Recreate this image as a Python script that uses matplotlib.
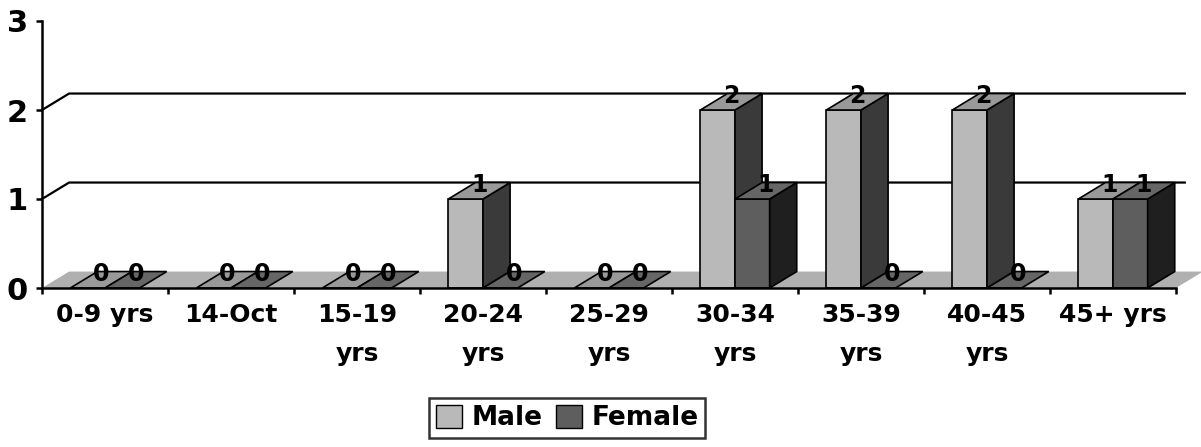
import matplotlib.pyplot as plt
from matplotlib.patches import Polygon, Patch

plt.rcParams['font.family'] = ['DejaVu Sans']
plt.rcParams['font.weight'] = 'bold'

# Data
categories = ['0-9 yrs', '14-Oct', '15-19\nyrs', '20-24\nyrs', '25-29\nyrs',
              '30-34\nyrs', '35-39\nyrs', '40-45\nyrs', '45+ yrs']
male = [0, 0, 0, 1, 0, 2, 2, 2, 1]
female = [0, 0, 0, 0, 0, 1, 0, 0, 1]
y_ticks = [0, 1, 2, 3]

# 3-D look (depth offset in data units) and face shades
dx, dy = 0.215, 0.185
bar_w, bar_off = 0.275, 0.225
shades = {
    'Male': dict(front='#b9b9b9', top='#999999', side='#3a3a3a'),
    'Female': dict(front='#5e5e5e', top='#666666', side='#1f1f1f'),
}

fig = plt.figure(figsize=(12.01, 4.47), dpi=100)
ax = fig.add_axes([42 / 1201, 159 / 447, 1134 / 1201, 267 / 447])
n = len(categories)
ax.set_xlim(0, n)
ax.set_ylim(0, 3)

# back wall gridlines with the little diagonal from the front axis
for v in y_ticks[1:-1]:
    ax.plot([0, dx, n + 0.07], [v, v + dy, v + dy], color='black', lw=1.6,
            clip_on=False, zorder=1)

# floor
ax.add_patch(Polygon([(0, 0), (n, 0), (n + dx, dy), (dx, dy)], closed=True,
                     facecolor='#b0b0b0', edgecolor='none', clip_on=False, zorder=2))

z = 3
for i in range(n):
    for s, (name, vals) in enumerate([('Male', male), ('Female', female)]):
        v = vals[i]
        c = shades[name]
        x0 = i + bar_off + s * bar_w
        top = [(x0, v), (x0 + bar_w, v), (x0 + bar_w + dx, v + dy), (x0 + dx, v + dy)]
        if v > 0:
            ax.bar(x0, v, width=bar_w, align='edge', color=c['front'],
                   edgecolor='black', lw=1.2, zorder=z)
            side = [(x0 + bar_w, 0), (x0 + bar_w + dx, dy),
                    (x0 + bar_w + dx, v + dy), (x0 + bar_w, v)]
            ax.add_patch(Polygon(side, closed=True, facecolor=c['side'],
                                 edgecolor='black', lw=1.2, clip_on=False, zorder=z))
        ax.add_patch(Polygon(top, closed=True, facecolor=c['top'],
                             edgecolor='black', lw=1.2, clip_on=False, zorder=z))
        z += 1
        ax.text(x0 + bar_w / 2 + dx / 2, v + dy * 0.85, str(v), ha='center',
                va='center', fontsize=17, fontweight='bold', zorder=100)

# axes styling
for sp in ['top', 'right']:
    ax.spines[sp].set_visible(False)
for sp in ['left', 'bottom']:
    ax.spines[sp].set_linewidth(1.8)
    ax.spines[sp].set_zorder(50)

ax.set_yticks(y_ticks)
ax.tick_params(axis='y', length=4, width=1.8, labelsize=22, pad=6)
ax.set_xticks(range(n + 1))
ax.set_xticklabels([])
ax.tick_params(axis='x', which='major', length=4, width=1.8)
ax.set_xticks([i + 0.5 for i in range(n)], minor=True)
ax.set_xticklabels(categories, minor=True, fontsize=18, fontweight='bold',
                   linespacing=1.8, va='top')
ax.tick_params(axis='x', which='minor', length=0, pad=11)

handles = [Patch(facecolor=shades[k]['front'], edgecolor='black', label=k)
           for k in ['Male', 'Female']]
leg = fig.legend(handles=handles, loc='center', ncol=2,
                 bbox_to_anchor=(567 / 1201, 1 - 418 / 447), fontsize=19,
                 frameon=True, fancybox=False, edgecolor='black',
                 handlelength=1.0, handleheight=1.0, handletextpad=0.35,
                 columnspacing=0.5, borderpad=0.25)
leg.get_frame().set_linewidth(1.8)
for t in leg.get_texts():
    t.set_fontweight('bold')

fig.savefig('out.png', dpi=100)
